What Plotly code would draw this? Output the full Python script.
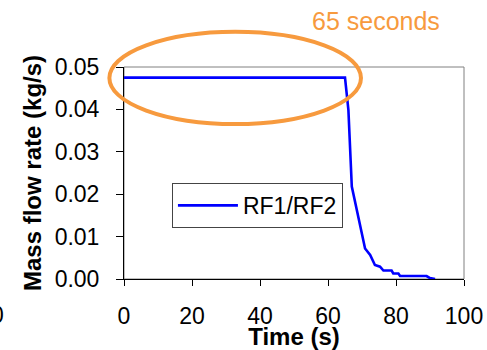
import plotly.graph_objects as go

# Data
time_s = [0, 65, 66, 67, 70.9, 72.4, 73.8, 75.3, 76.3, 78.7, 79.2, 80.7, 81.2, 89, 90, 91.5]
flow_kgs = [0.0475, 0.0475, 0.0399, 0.0218, 0.0072, 0.0057, 0.0033, 0.0029, 0.0020,
            0.0020, 0.0013, 0.0013, 0.0007, 0.0007, 0.0002, 0.0]
series_name = "RF1/RF2"
x_ticks = [0, 20, 40, 60, 80, 100]
y_ticks = [0.00, 0.01, 0.02, 0.03, 0.04, 0.05]
y_tick_text = ["0.00", "0.01", "0.02", "0.03", "0.04", "0.05"]
note_text = "65 seconds"

FONT = "Liberation Sans, Arial, sans-serif"
ORANGE = "#F79A3E"

fig = go.Figure()
fig.add_trace(go.Scatter(
    x=time_s, y=flow_kgs, mode="lines", name=series_name,
    line=dict(color="#0000FF", width=2.6),
))

fig.update_layout(
    width=487, height=350,
    margin=dict(l=124, r=23, t=67, b=71, autoexpand=False),
    paper_bgcolor="white", plot_bgcolor="white",
    font=dict(family=FONT, size=23, color="black"),
    showlegend=True,
    legend=dict(
        x=0.141, y=0.453, xanchor="left", yanchor="top",
        bordercolor="#444444", borderwidth=1, bgcolor="white",
        font=dict(size=23), itemwidth=60,
    ),
    xaxis=dict(
        range=[0, 100], tickvals=x_ticks, ticks="outside", ticklen=6,
        tickcolor="black", showline=True, linecolor="black", linewidth=1,
        showgrid=False, zeroline=False, ticklabelstandoff=10, automargin=False,
        title=dict(text="<b>Time (s)</b>", font=dict(size=24), standoff=6),
    ),
    yaxis=dict(
        range=[0, 0.05], tickvals=y_ticks, ticktext=y_tick_text, ticks="outside",
        ticklen=7, tickcolor="black", showline=True, linecolor="black", linewidth=1,
        showgrid=False, zeroline=False, ticklabelstandoff=12, automargin=False,
        title=dict(text="<b>Mass flow rate (kg/s)</b>", font=dict(size=24), standoff=6),
    ),
    shapes=[
        dict(type="rect", xref="paper", yref="paper", x0=0, x1=1, y0=0, y1=1,
             line=dict(color="#808080", width=1), layer="below"),
        dict(type="circle", xref="paper", yref="paper",
             x0=-0.043, x1=0.697, y0=0.731, y1=1.166,
             line=dict(color=ORANGE, width=4), layer="above"),
    ],
    annotations=[
        dict(text=note_text, xref="paper", yref="paper", x=0.74, y=1.215,
             xanchor="center", yanchor="middle", showarrow=False,
             font=dict(size=25, color=ORANGE, family=FONT)),
        dict(text="0", xref="paper", yref="paper", x=-0.373, y=-0.168,
             xanchor="center", yanchor="middle", showarrow=False,
             font=dict(size=23, color="black", family=FONT)),
    ],
)

fig.write_html("out.html", config={"displayModeBar": False},
               post_script="document.body.style.margin='0';document.body.style.overflow='hidden';")
